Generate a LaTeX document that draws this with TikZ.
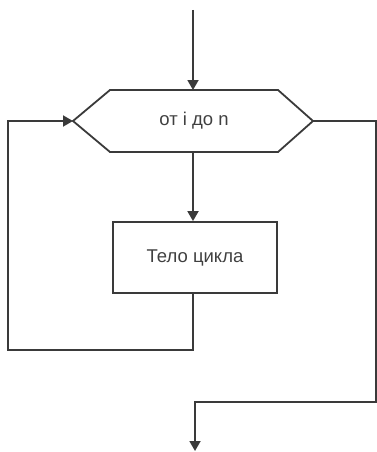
\documentclass[tikz,border=0pt]{standalone}
\usepackage{fontspec}
\setmainfont{Liberation Sans}
\usetikzlibrary{arrows.meta}
\definecolor{ln}{HTML}{3A3A3A}
\tikzset{
  conn/.style={draw=ln, line width=1.8pt},
  arr/.style={conn, -{Triangle[width=11pt,length=10pt]}},
  lbl/.style={font=\fontsize{18.5}{21}\selectfont, text=black!75},
}
\begin{document}
\begin{tikzpicture}[x=1pt,y=-1pt]
\useasboundingbox (0,0) rectangle (377,452);
% hexagon
\coordinate (hl) at (73,121);
\coordinate (hr) at (313,121);
\coordinate (ht) at (193,90);
\coordinate (hb) at (193,152);
\draw[conn, line join=miter] (hl) -- (110,90) -- (278,90) -- (hr) -- (278,152) -- (110,152) -- cycle;
\node[lbl] (hex) at (194,121) {от i до n};
% body box
\node[conn, minimum width=164pt, minimum height=71pt, inner sep=0pt, lbl] (body) at (195,257.5) {Тело цикла};
% connectors
\coordinate (start) at (193,10);
\draw[arr] (start) -- (ht);
\draw[arr] (hb) -- (body.north -| hb);
\coordinate (b1) at (193,350);
\coordinate (b2) at (8,350);
\coordinate (b3) at (8,121);
\draw[arr] (body.south -| b1) -- (b1) -- (b2) -- (b3) -- (hl);
\coordinate (r1) at (376,121);
\coordinate (r2) at (376,402);
\coordinate (r3) at (195,402);
\coordinate (endp) at (195,451);
\draw[arr] (hr) -- (r1) -- (r2) -- (r3) -- (endp);
\end{tikzpicture}
\end{document}
